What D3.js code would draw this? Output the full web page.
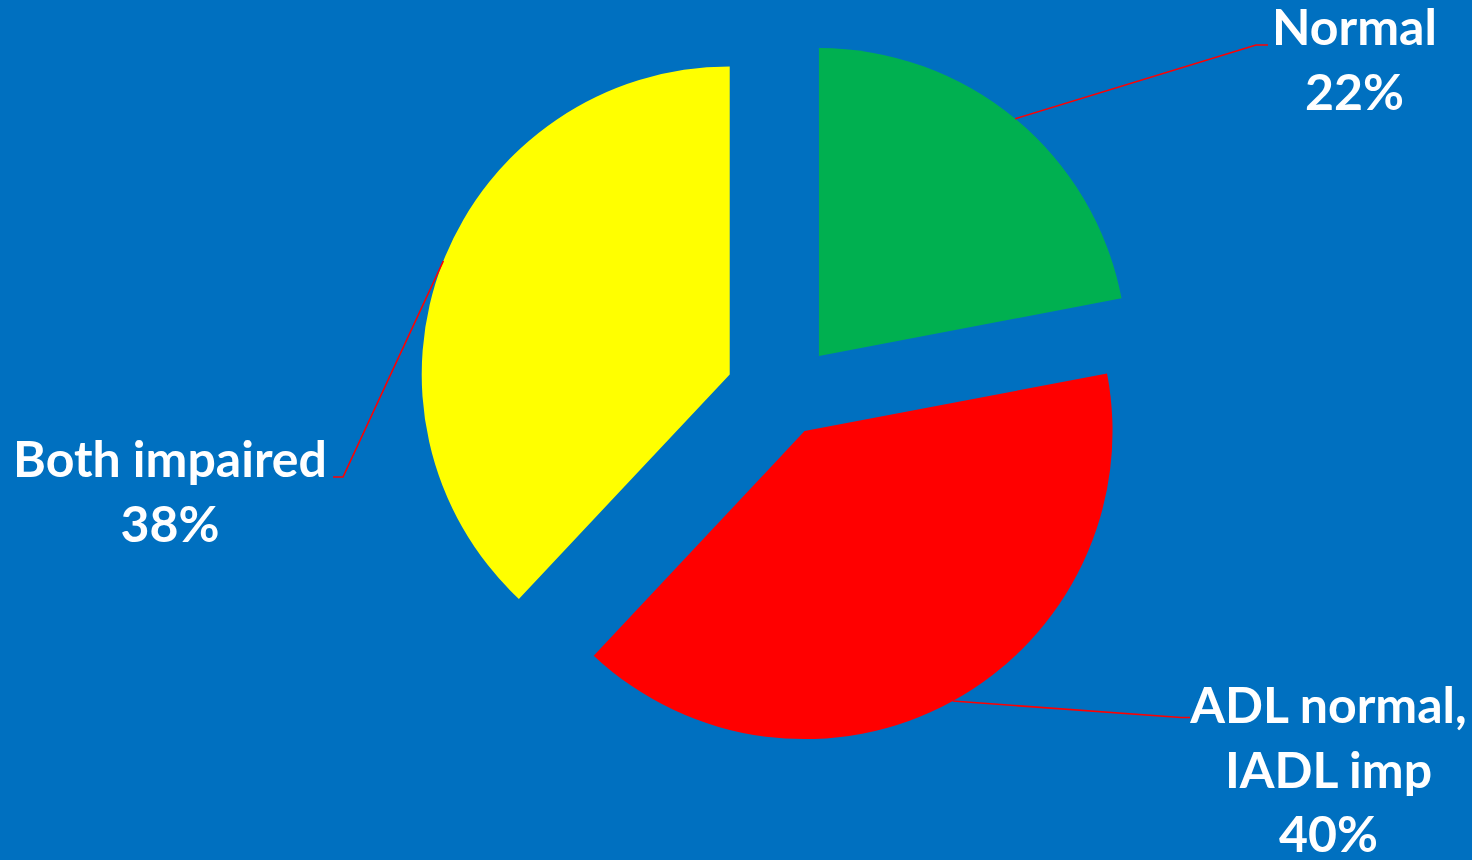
<!DOCTYPE html>
<html>
<head>
<meta charset="utf-8">
<script src="https://cdn.jsdelivr.net/npm/d3@7"></script>
<style>
  html, body { margin: 0; padding: 0; background: #0070C0; }
  svg { display: block; }
  text { font-family: Lato, "Open Sans", sans-serif; font-weight: 700; fill: #ffffff; }
</style>
</head>
<body>
<svg id="chart" width="1472" height="860"></svg>
<script>
// Functional status breakdown (percent of patients)
const categories = ["Normal", "ADL normal, IADL imp", "Both impaired"];
const labelLines = [["Normal"], ["ADL normal,", "IADL imp"], ["Both impaired"]];
const values = [22, 40, 38];

// Styling and layout
const colors = ["#00B050", "#FF0000", "#FFFF00"];
const explode = [52.5, 39.5, 60];          // outward shift of each slice, px
const labelAnchor = [                       // centre x, first baseline y
  { x: 1354.5, y: 45 },
  { x: 1328.5, y: 723 },
  { x: 170, y: 477 }
];
const leaderEnds = [                        // elbow and end of each leader line
  [[1256, 45], [1268, 45]],
  [[1181, 717.5], [1190, 717.5]],
  [[343, 477], [333, 477]]
];

const W = 1472, H = 860;
const cx = 785.5, cy = 396.5, R = 308;
const lineGap = 64.5, fontSize = 50;

const svg = d3.select("#chart");
svg.append("rect").attr("width", W).attr("height", H).attr("fill", "#0070C0");

const data = categories.map((c, i) => ({ name: c, value: values[i], idx: i }));
const pie = d3.pie().value(d => d.value).sort(null).startAngle(0).endAngle(2 * Math.PI);
const arc = d3.arc().innerRadius(0).outerRadius(R);
const arcs = pie(data);

const g = svg.append("g").attr("transform", `translate(${cx},${cy})`);

function offset(a) {
  const mid = (a.startAngle + a.endAngle) / 2;
  const d = explode[a.data.idx];
  return [Math.sin(mid) * d, -Math.cos(mid) * d];
}

g.selectAll("path.slice")
  .data(arcs)
  .join("path")
  .attr("class", "slice")
  .attr("d", arc)
  .attr("fill", d => colors[d.data.idx])
  .attr("transform", d => { const o = offset(d); return `translate(${o[0]},${o[1]})`; });

// leader lines from the outer edge of each slice to its label
const leaders = svg.append("g");
arcs.forEach(a => {
  const mid = (a.startAngle + a.endAngle) / 2;
  const o = offset(a);
  const sx = cx + o[0] + Math.sin(mid) * R;
  const sy = cy + o[1] - Math.cos(mid) * R;
  const pts = [[sx, sy]].concat(leaderEnds[a.data.idx]);
  leaders.append("path")
    .attr("d", d3.line()(pts))
    .attr("fill", "none")
    .attr("stroke", "#FF0000")
    .attr("stroke-width", 1.6);
});

// data labels: category name and percentage
const labels = svg.append("g");
arcs.forEach(a => {
  const i = a.data.idx;
  const lines = labelLines[i].concat([a.data.value + "%"]);
  const t = labels.append("text")
    .attr("text-anchor", "middle")
    .attr("font-size", fontSize);
  lines.forEach((ln, k) => {
    t.append("tspan")
      .attr("x", labelAnchor[i].x)
      .attr("y", labelAnchor[i].y + k * lineGap)
      .text(ln);
  });
});
</script>
</body>
</html>
